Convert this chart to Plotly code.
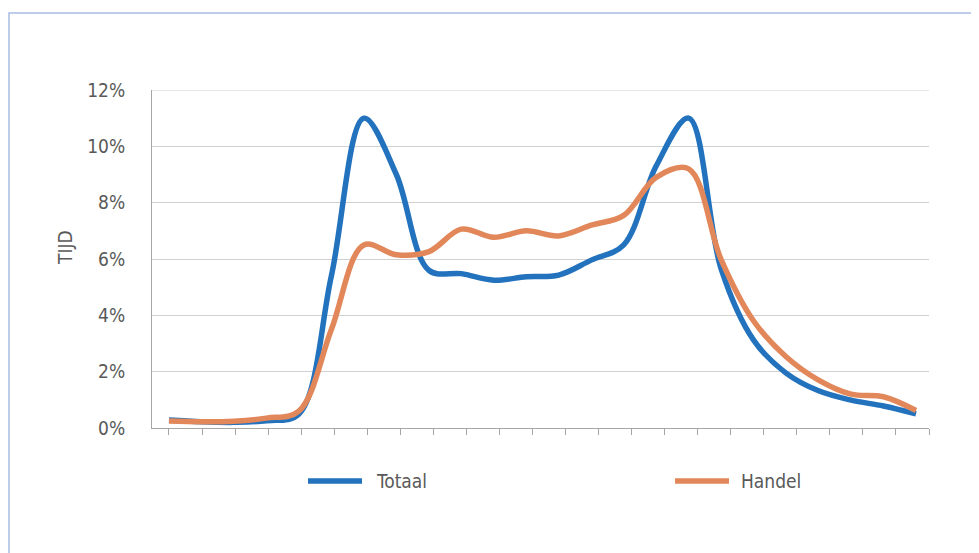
import plotly.graph_objects as go

# Hours of the day (0..23)
hours = list(range(24))

# Share of trips per hour (%)
totaal = [0.28, 0.22, 0.20, 0.26, 0.50, 5.40, 11.00, 9.00, 5.60, 5.48, 5.25, 5.37,
          5.43, 5.96, 6.50, 9.30, 11.00, 5.65, 3.12, 1.95, 1.32, 0.99, 0.78, 0.50]
handel = [0.25, 0.22, 0.24, 0.35, 0.60, 3.50, 6.50, 6.15, 6.26, 7.06, 6.77, 7.00,
          6.82, 7.20, 7.55, 8.90, 9.20, 5.98, 3.80, 2.53, 1.70, 1.20, 1.11, 0.62]

series_names = ["Totaal", "Handel"]
y_ticks = [0, 2, 4, 6, 8, 10, 12]
y_ticktext = ["0%", "2%", "4%", "6%", "8%", "10%", "12%"]
y_title = "TIJD"

FONT = "Liberation Sans Narrow, DejaVu Sans Condensed, Roboto Condensed, Liberation Sans, sans-serif"
GREY = "#595959"
BLUE = "#2272BD"
ORANGE = "#E2875A"
GRID = "#D0D0D0"
colors = [BLUE, ORANGE]

fig = go.Figure()
for name, vals, col in zip(series_names, [totaal, handel], colors):
    fig.add_trace(go.Scatter(x=hours, y=vals, name=name, mode="lines", showlegend=False,
                             line=dict(color=col, width=5.5, shape="spline", smoothing=1.0)))

x_lo, x_hi = -0.523, 23.40
tick_pos = [x_hi * k / 23 for k in range(24)]

# plot area in window pixels: x 152..929, y 90..428 (page has 8px body margin)
PL, PR, PT, PB = 152, 929, 90, 428
PW, PH = PR - PL, PB - PT


def px(xp):
    return (xp - PL) / PW


def py(yp):
    return (PB - yp) / PH


# manual legend (long line samples like the original)
legend_items = [(308, 362, 374), (675, 729, 739)]
shapes = [dict(type="rect", xref="paper", yref="paper",
               x0=px(9), x1=px(995), y0=py(13), y1=py(580),
               line=dict(color="#A8BCE2", width=1.5), fillcolor="rgba(0,0,0,0)", layer="below"),
          # top gridline (at the range edge)
          dict(type="line", xref="paper", yref="y", x0=0, x1=1, y0=y_ticks[-1], y1=y_ticks[-1],
               line=dict(color=GRID, width=1), layer="below")]
annotations = [dict(text=y_title, xref="paper", yref="paper", x=px(65), y=py(248),
                    textangle=-90, showarrow=False, xanchor="center", yanchor="middle",
                    font=dict(family=FONT, size=19, color=GREY))]
for (lx0, lx1, tx), name, col in zip(legend_items, series_names, colors):
    shapes.append(dict(type="line", xref="paper", yref="paper",
                       x0=px(lx0), x1=px(lx1), y0=py(481), y1=py(481),
                       line=dict(color=col, width=5.5)))
    annotations.append(dict(text=name, xref="paper", yref="paper", x=px(tx), y=py(481),
                            xanchor="left", yanchor="middle", showarrow=False,
                            font=dict(family=FONT, size=19, color=GREY)))

fig.update_layout(
    width=971, height=545,
    margin=dict(l=PL - 8, r=971 - (PR - 8), t=PT - 8, b=545 - (PB - 8)),
    paper_bgcolor="white", plot_bgcolor="white",
    font=dict(family=FONT, color=GREY, size=19),
    showlegend=False,
    xaxis=dict(range=[x_lo, x_hi], showgrid=False, zeroline=False,
               showline=True, linecolor="#A6A6A6", linewidth=1,
               tickmode="array", tickvals=tick_pos, ticks="outside", ticklen=6,
               tickcolor="#A6A6A6", showticklabels=False, fixedrange=True),
    yaxis=dict(range=[0, 12], tickmode="array", tickvals=y_ticks, ticktext=y_ticktext,
               showgrid=True, gridcolor=GRID, gridwidth=1, zeroline=False,
               showline=True, linecolor="#A6A6A6", linewidth=1, ticks="",
               ticklabelstandoff=22, tickfont=dict(size=19, color=GREY), fixedrange=True),
    annotations=annotations,
    shapes=shapes,
)

fig.write_html("out.html")
